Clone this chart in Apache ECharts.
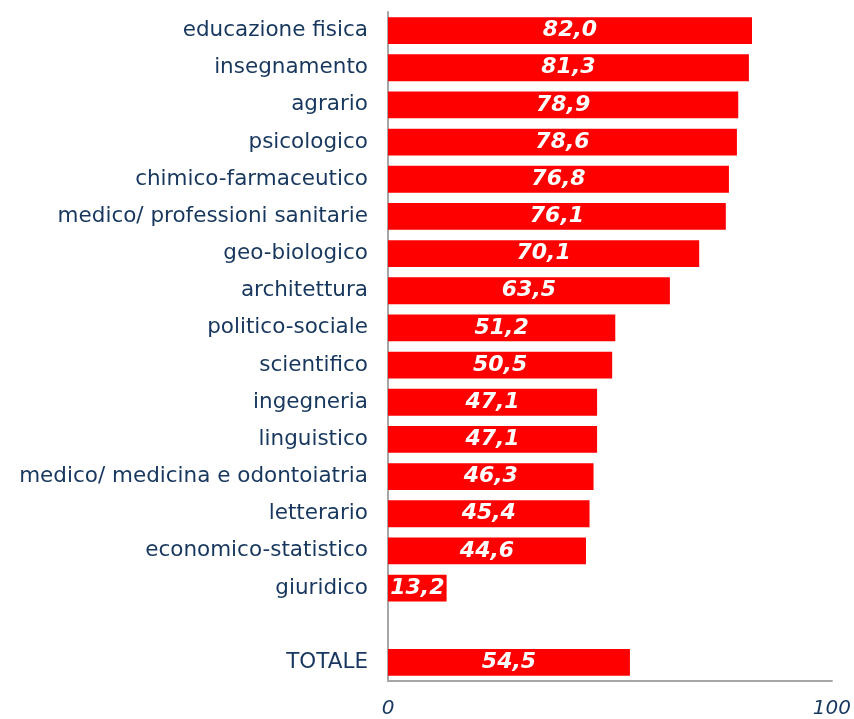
<!DOCTYPE html>
<html>
<head>
<meta charset="utf-8">
<script src="https://cdn.jsdelivr.net/npm/echarts@6/dist/echarts.min.js"></script>
<style>
  html, body { margin: 0; padding: 0; background: #fff; }
  #chart { width: 854px; height: 719px; }
</style>
</head>
<body>
<div id="chart"></div>
<script>
// categories top to bottom (blank row before the total)
const categories = [
  'educazione fisica',
  'insegnamento',
  'agrario',
  'psicologico',
  'chimico-farmaceutico',
  'medico/ professioni sanitarie',
  'geo-biologico',
  'architettura',
  'politico-sociale',
  'scientifico',
  'ingegneria',
  'linguistico',
  'medico/ medicina e odontoiatria',
  'letterario',
  'economico-statistico',
  'giuridico',
  '',
  'TOTALE'
]
const values = [82.0, 81.3, 78.9, 78.6, 76.8, 76.1, 70.1, 63.5, 51.2, 50.5, 47.1, 47.1, 46.3, 45.4, 44.6, 13.2, null, 54.5]
const xTicks = [0, 100]

const labelColor = '#17375e'
const axisColor = '#a6a6a6'

const chart = echarts.init(document.getElementById('chart'))

chart.setOption({
  animation: false,
  grid: {
    left: 388,
    right: 22,
    top: 12,
    bottom: 34,
    containLabel: false
  },
  xAxis: {
    type: 'value',
    min: xTicks[0],
    max: xTicks[xTicks.length - 1],
    interval: 100,
    splitLine: { show: false },
    axisTick: { show: false },
    axisLine: { show: true, lineStyle: { color: axisColor, width: 2 } },
    axisLabel: {
      margin: 18,
      fontFamily: 'DejaVu Sans',
      fontSize: 20,
      fontStyle: 'italic',
      color: labelColor
    }
  },
  yAxis: {
    type: 'category',
    inverse: true,
    data: categories,
    axisTick: { show: false },
    axisLine: { show: true, lineStyle: { color: axisColor, width: 2 } },
    axisLabel: {
      margin: 20,
      fontFamily: 'DejaVu Sans',
      fontSize: 21.5,
      color: labelColor,
      interval: 0
    }
  },
  series: [
    {
      type: 'bar',
      data: values,
      barWidth: '72%',
      itemStyle: { color: '#ff0000' },
      label: {
        show: true,
        position: 'inside',
        formatter: p => p.value == null ? '' : p.value.toFixed(1).replace('.', ','),
        color: '#fff',
        fontFamily: 'DejaVu Sans',
        fontSize: 22,
        fontWeight: 'bold',
        fontStyle: 'italic'
      }
    }
  ]
})
</script>
</body>
</html>
